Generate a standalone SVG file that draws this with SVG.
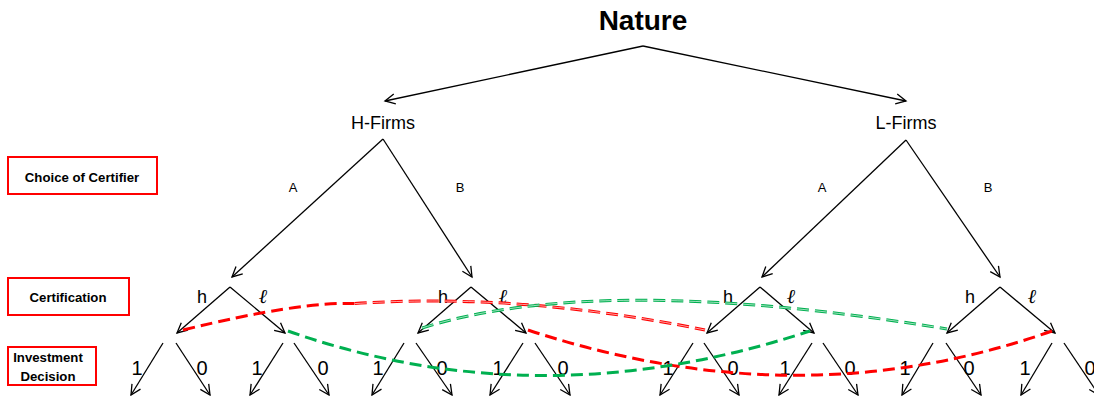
<svg xmlns="http://www.w3.org/2000/svg" width="1094" height="396" viewBox="0 0 1094 396">
<style>
text{font-family:"Liberation Sans",Arial,sans-serif;fill:#000}
.ttl{font-size:28px;font-weight:bold;text-anchor:middle}
.firm{font-size:18px;text-anchor:middle}
.ab{font-size:13px;text-anchor:middle}
.hl{font-size:18px;text-anchor:middle}
.ell{font-size:20px;font-style:italic;text-anchor:middle;font-family:"DejaVu Serif","Liberation Serif",serif}
.num{font-size:20px;text-anchor:middle}
.box{fill:#fff;stroke:#ff0000;stroke-width:2}
.lbl{font-size:13.2px;font-weight:bold;text-anchor:middle}
.e{stroke:#000;stroke-width:1.3;fill:none;marker-end:url(#ar)}
.red{stroke:#ff0000;stroke-width:3;fill:none;stroke-dasharray:12 6}
.grn{stroke:#00b050;stroke-width:3;fill:none;stroke-dasharray:12 6}
.thin{stroke:#fff;stroke-width:0.9;fill:none;stroke-dasharray:12 6;opacity:0.7}
</style>
<defs>
<marker id="ar" markerUnits="userSpaceOnUse" markerWidth="14" markerHeight="14" refX="11" refY="6" orient="auto">
<path d="M1,1 L11,6 L1,11" fill="none" stroke="#000" stroke-width="1.3"/>
</marker>
</defs>

<g id="stage-labels">
<g id="lbl-choice"><rect class="box" x="8" y="157" width="149" height="37"/><text class="lbl" x="82" y="182">Choice of Certifier</text></g>
<g id="lbl-cert"><rect class="box" x="8" y="278" width="121" height="37"/><text class="lbl" x="68" y="302">Certification</text></g>
<g id="lbl-invest"><rect class="box" x="8" y="347" width="88" height="38"/><text class="lbl" x="48" y="362">Investment</text><text class="lbl" x="48" y="381">Decision</text></g>
</g>

<g id="connectors">
<path class="e" d="M643,46 L385,101"/>
<path class="e" d="M643,46 L906,101"/>
<path class="e" d="M383,139 L232,277"/>
<path class="e" d="M383,139 L472,277"/>
<path class="e" d="M906,140 L762,277"/>
<path class="e" d="M906,140 L1000,277"/>
<path class="e" d="M230,287 L177,333"/>
<path class="e" d="M230,287 L285,333"/>
<path class="e" d="M471,287 L418,333"/>
<path class="e" d="M471,287 L526,333"/>
<path class="e" d="M760,287 L707,333"/>
<path class="e" d="M760,287 L814,333"/>
<path class="e" d="M1000,287 L947,333"/>
<path class="e" d="M1000,287 L1055,333"/>
<path class="e" d="M163,343 L131,395"/><path class="e" d="M176,343 L210,395"/>
<path class="e" d="M283,343 L250,395"/><path class="e" d="M294,343 L329,395"/>
<path class="e" d="M404,343 L372,395"/><path class="e" d="M416,343 L452,395"/>
<path class="e" d="M523,343 L490,395"/><path class="e" d="M535,343 L570,395"/>
<path class="e" d="M693,343 L660,395"/><path class="e" d="M704,343 L739,395"/>
<path class="e" d="M812,343 L779,395"/><path class="e" d="M823,343 L858,395"/>
<path class="e" d="M933,343 L902,395"/><path class="e" d="M946,343 L981,395"/>
<path class="e" d="M1052,343 L1021,395"/><path class="e" d="M1064,343 L1099,395"/>
</g>

<g id="nature"><text class="ttl" x="643" y="30">Nature</text></g>
<g id="h-firms"><text class="firm" x="383" y="129">H-Firms</text><text class="ab" x="293" y="192">A</text><text class="ab" x="460" y="192">B</text></g>
<g id="l-firms"><text class="firm" x="906" y="129">L-Firms</text><text class="ab" x="822" y="192">A</text><text class="ab" x="988" y="192">B</text></g>

<g id="cert-HA"><text class="hl" x="202" y="303">h</text><text class="ell" x="263" y="303">ℓ</text></g>
<g id="cert-HB"><text class="hl" x="443" y="303">h</text><text class="ell" x="503" y="303">ℓ</text></g>
<g id="cert-LA"><text class="hl" x="728" y="303">h</text><text class="ell" x="791" y="303">ℓ</text></g>
<g id="cert-LB"><text class="hl" x="970" y="303">h</text><text class="ell" x="1032" y="303">ℓ</text></g>

<g id="inv-1"><text class="num" x="137" y="375">1</text><text class="num" x="202" y="375">0</text></g>
<g id="inv-2"><text class="num" x="257" y="375">1</text><text class="num" x="323" y="375">0</text></g>
<g id="inv-3"><text class="num" x="378" y="375">1</text><text class="num" x="442" y="375">0</text></g>
<g id="inv-4"><text class="num" x="498" y="375">1</text><text class="num" x="563" y="375">0</text></g>
<g id="inv-5"><text class="num" x="668" y="375">1</text><text class="num" x="733" y="375">0</text></g>
<g id="inv-6"><text class="num" x="785" y="375">1</text><text class="num" x="850" y="375">0</text></g>
<g id="inv-7"><text class="num" x="905" y="375">1</text><text class="num" x="969" y="375">0</text></g>
<g id="inv-8"><text class="num" x="1025" y="375">1</text><text class="num" x="1090" y="375">0</text></g>

<g id="info-sets">
<path class="red" d="M183,330 Q300,301.3 354.8,303.6"/>
<path class="red" d="M354.8,303.6 Q519.75,292.3 705,330"/>
<path class="thin" d="M354.8,303.6 Q519.75,292.3 705,330"/>
<path class="grn" d="M422,328 Q600,272 947,329"/>
<path class="thin" d="M422,328 Q600,272 947,329"/>
<path class="red" d="M528,330 Q800,420 1052,331"/>
<path class="grn" d="M288,331 Q540,420 810,331"/>
</g>
</svg>
